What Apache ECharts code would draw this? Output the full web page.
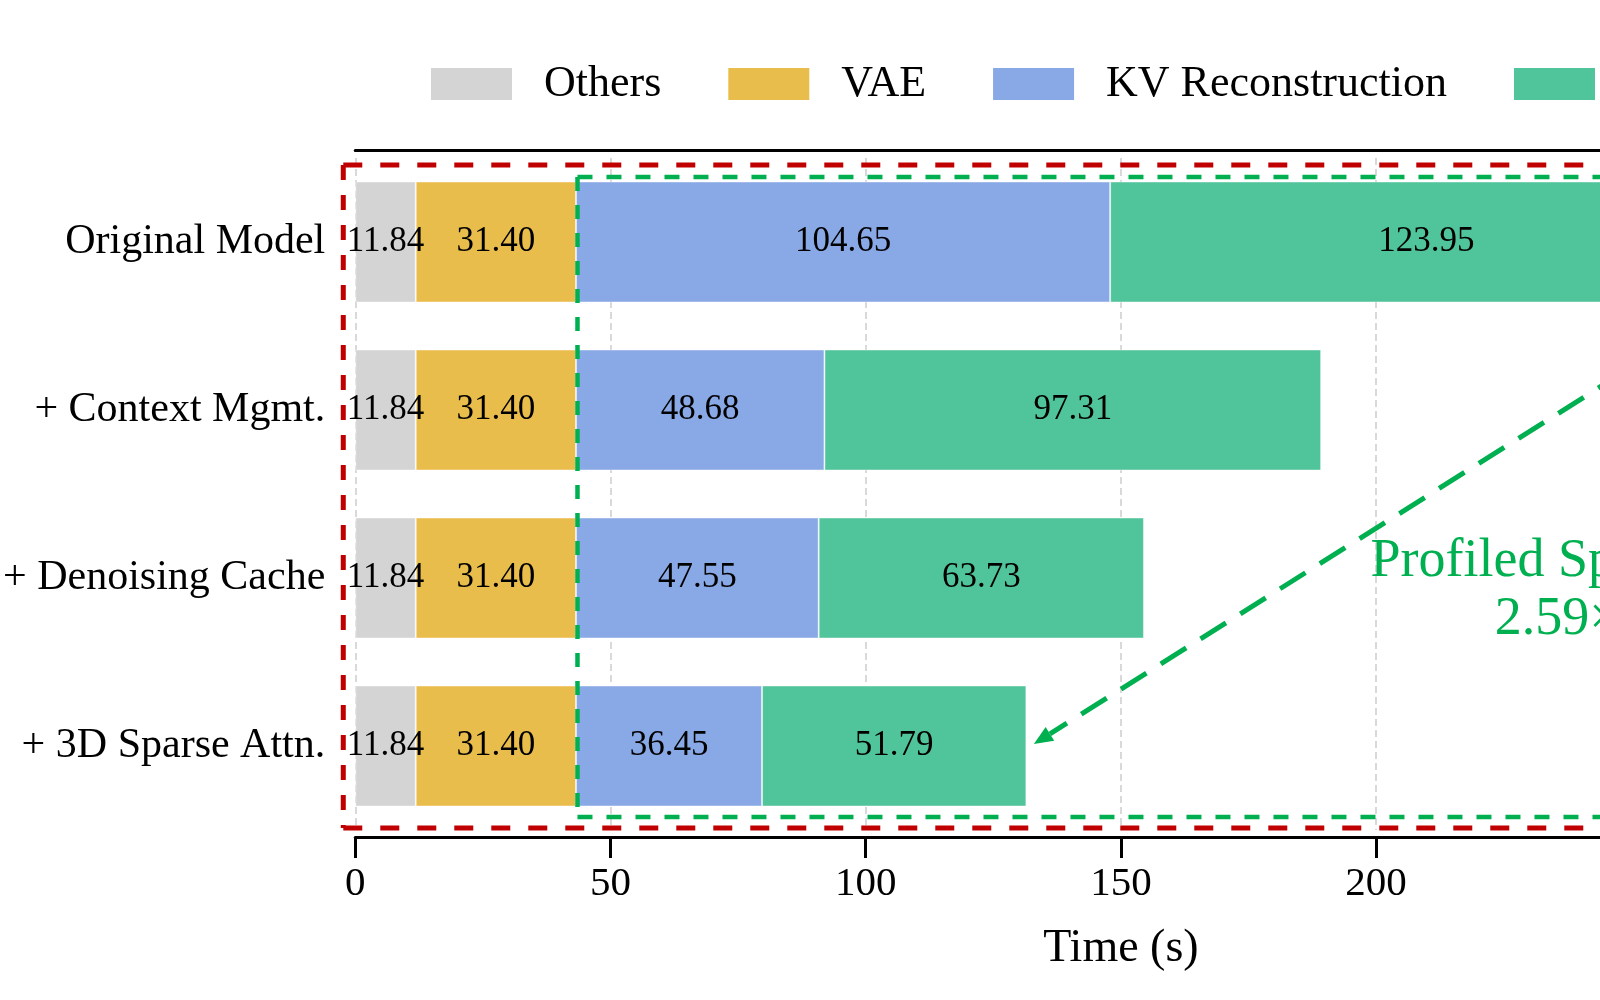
<!DOCTYPE html>
<html>
<head>
<meta charset="utf-8">
<script src="https://cdn.jsdelivr.net/npm/echarts@6/dist/echarts.min.js"></script>
<style>
html, body { margin: 0; padding: 0; background: #fff; overflow: hidden; }
#chart { width: 1950px; height: 1000px; }
</style>
</head>
<body>
<div id="chart"></div>
<script>
// values
const categories = ['Original Model', '+ Context Mgmt.', '+ Denoising Cache', '+ 3D Sparse Attn.'];
const others = [11.84, 11.84, 11.84, 11.84];
const vae = [31.40, 31.40, 31.40, 31.40];
const kvRecon = [104.65, 48.68, 47.55, 36.45];
const denoising = [123.95, 97.31, 63.73, 51.79];
const seriesNames = ['Others', 'VAE', 'KV Reconstruction', 'Denoising'];
const colors = ['#d4d4d4', '#e9bd4b', '#88a8e6', '#50c49a'];
const xMin = 0, xMax = 300, xStep = 50;
const speedupText = 'Profiled Speedup\n2.59\u00d7';

const serif = "'Liberation Serif', 'Times New Roman', serif";
const red = '#c00000';
const green = '#00b050';

const chart = echarts.init(document.getElementById('chart'));

const makeSeries = (name, data, color) => ({
    name: name,
    type: 'bar',
    stack: 'total',
    data: data,
    barWidth: 121,
    itemStyle: { color: color, borderColor: 'rgba(255,255,255,0.45)', borderWidth: 1 },
    label: {
        show: true,
        position: 'inside',
        color: '#000',
        fontFamily: serif,
        fontSize: 35,
        formatter: p => p.value.toFixed(2)
    },
    emphasis: { disabled: true }
});

const option = {
    animation: false,
    backgroundColor: '#fff',
    grid: { left: 349, top: 158, width: 1537.5, height: 672 },
    legend: {
        left: 431,
        top: 62,
        padding: 0,
        itemWidth: 81,
        itemHeight: 32,
        itemGap: 67,
        icon: 'rect',
        itemStyle: { borderWidth: 0 },
        textStyle: { fontFamily: serif, fontSize: 44, color: '#000', padding: [0, 0, 0, 27] },
        data: seriesNames
    },
    xAxis: [{
        type: 'value',
        position: 'bottom',
        offset: 7,
        min: xMin,
        max: xMax,
        interval: xStep,
        name: 'Time (s)',
        nameLocation: 'middle',
        nameGap: 89,
        nameTextStyle: { fontFamily: serif, fontSize: 46, color: '#000' },
        axisLine: { show: true, lineStyle: { color: '#000', width: 3 } },
        axisTick: { show: true, length: 21, lineStyle: { color: '#000', width: 3 } },
        axisLabel: { fontFamily: serif, fontSize: 41, color: '#000', margin: 27 },
        splitLine: { show: true, lineStyle: { color: '#d9d9d9', width: 2, type: [7, 4] } }
    }, {
        type: 'value',
        position: 'top',
        offset: 8,
        min: xMin,
        max: xMax,
        interval: xStep,
        axisLine: { show: true, lineStyle: { color: '#000', width: 3 } },
        axisTick: { show: false },
        axisLabel: { show: false },
        splitLine: { show: false }
    }],
    yAxis: {
        type: 'category',
        data: categories,
        inverse: true,
        axisLine: { show: false },
        axisTick: { show: false },
        axisLabel: { fontFamily: serif, fontSize: 42, color: '#000', margin: 30 }
    },
    series: [
        makeSeries(seriesNames[0], others, colors[0]),
        makeSeries(seriesNames[1], vae, colors[1]),
        makeSeries(seriesNames[2], kvRecon, colors[2]),
        makeSeries(seriesNames[3], denoising, colors[3])
    ]
};
chart.setOption(option);

// annotation overlay, placed from the chart's own scales
const px = (v, cat) => chart.convertToPixel({ seriesIndex: 0 }, [v, cat]);
const totals = categories.map((c, i) => others[i] + vae[i] + kvRecon[i] + denoising[i]);
const baseEnd = others[0] + vae[0];

const x0 = px(0, categories[0])[0];
const c0 = px(0, categories[0])[1];
const c3 = px(0, categories[3])[1];
const farRight = 1945;

const line = (x1, y1, x2, y2, color, w, dash) => ({
    type: 'line',
    silent: true,
    z: 100,
    shape: { x1: x1, y1: y1, x2: x2, y2: y2 },
    style: { stroke: color, lineWidth: w, lineDash: dash }
});

// red box
const rLeft = x0 - 12, rTop = c0 - 77, rBottom = c3 + 82;
// green box
const gLeft = px(baseEnd, categories[0])[0] + 1.5, gTop = c0 - 65, gBottom = c3 + 71;

// arrow from end of the original bar to end of the last bar
const aStart = [px(totals[0], categories[0])[0], c0 + 55];
const aTip = [px(totals[3], categories[3])[0] + 7.5, c3 - 2];
const dx = aTip[0] - aStart[0], dy = aTip[1] - aStart[1];
const len = Math.sqrt(dx * dx + dy * dy);
const ux = dx / len, uy = dy / len;
const headLen = 19, headHalf = 8;
const base = [aTip[0] - ux * headLen, aTip[1] - uy * headLen];
const head = [
    aTip,
    [base[0] - uy * headHalf, base[1] + ux * headHalf],
    [base[0] + uy * headHalf, base[1] - ux * headHalf]
];

const textPos = px(235.5, categories[2]);

chart.setOption({
    graphic: [
        line(rLeft, rTop, farRight, rTop, red, 5, [19, 18]),
        line(rLeft, rBottom, farRight, rBottom, red, 5, [19, 18]),
        line(rLeft, rTop, rLeft, rBottom, red, 5, [15, 15]),
        line(gLeft, gTop, farRight - 10, gTop, green, 4.5, [15, 14]),
        line(gLeft, gBottom, farRight - 10, gBottom, green, 4.5, [15, 14]),
        line(gLeft, gTop, gLeft, gBottom, green, 4.5, [14, 14]),
        line(aStart[0], aStart[1], base[0], base[1], green, 5, [30, 17]),
        {
            type: 'polygon',
            silent: true,
            z: 100,
            shape: { points: head },
            style: { fill: green }
        },
        {
            type: 'text',
            silent: true,
            z: 100,
            x: textPos[0],
            y: textPos[1] + 13,
            style: {
                text: speedupText,
                fill: green,
                fontFamily: serif,
                fontSize: 54,
                lineHeight: 58,
                align: 'center',
                verticalAlign: 'middle'
            }
        }
    ]
});
</script>
</body>
</html>
